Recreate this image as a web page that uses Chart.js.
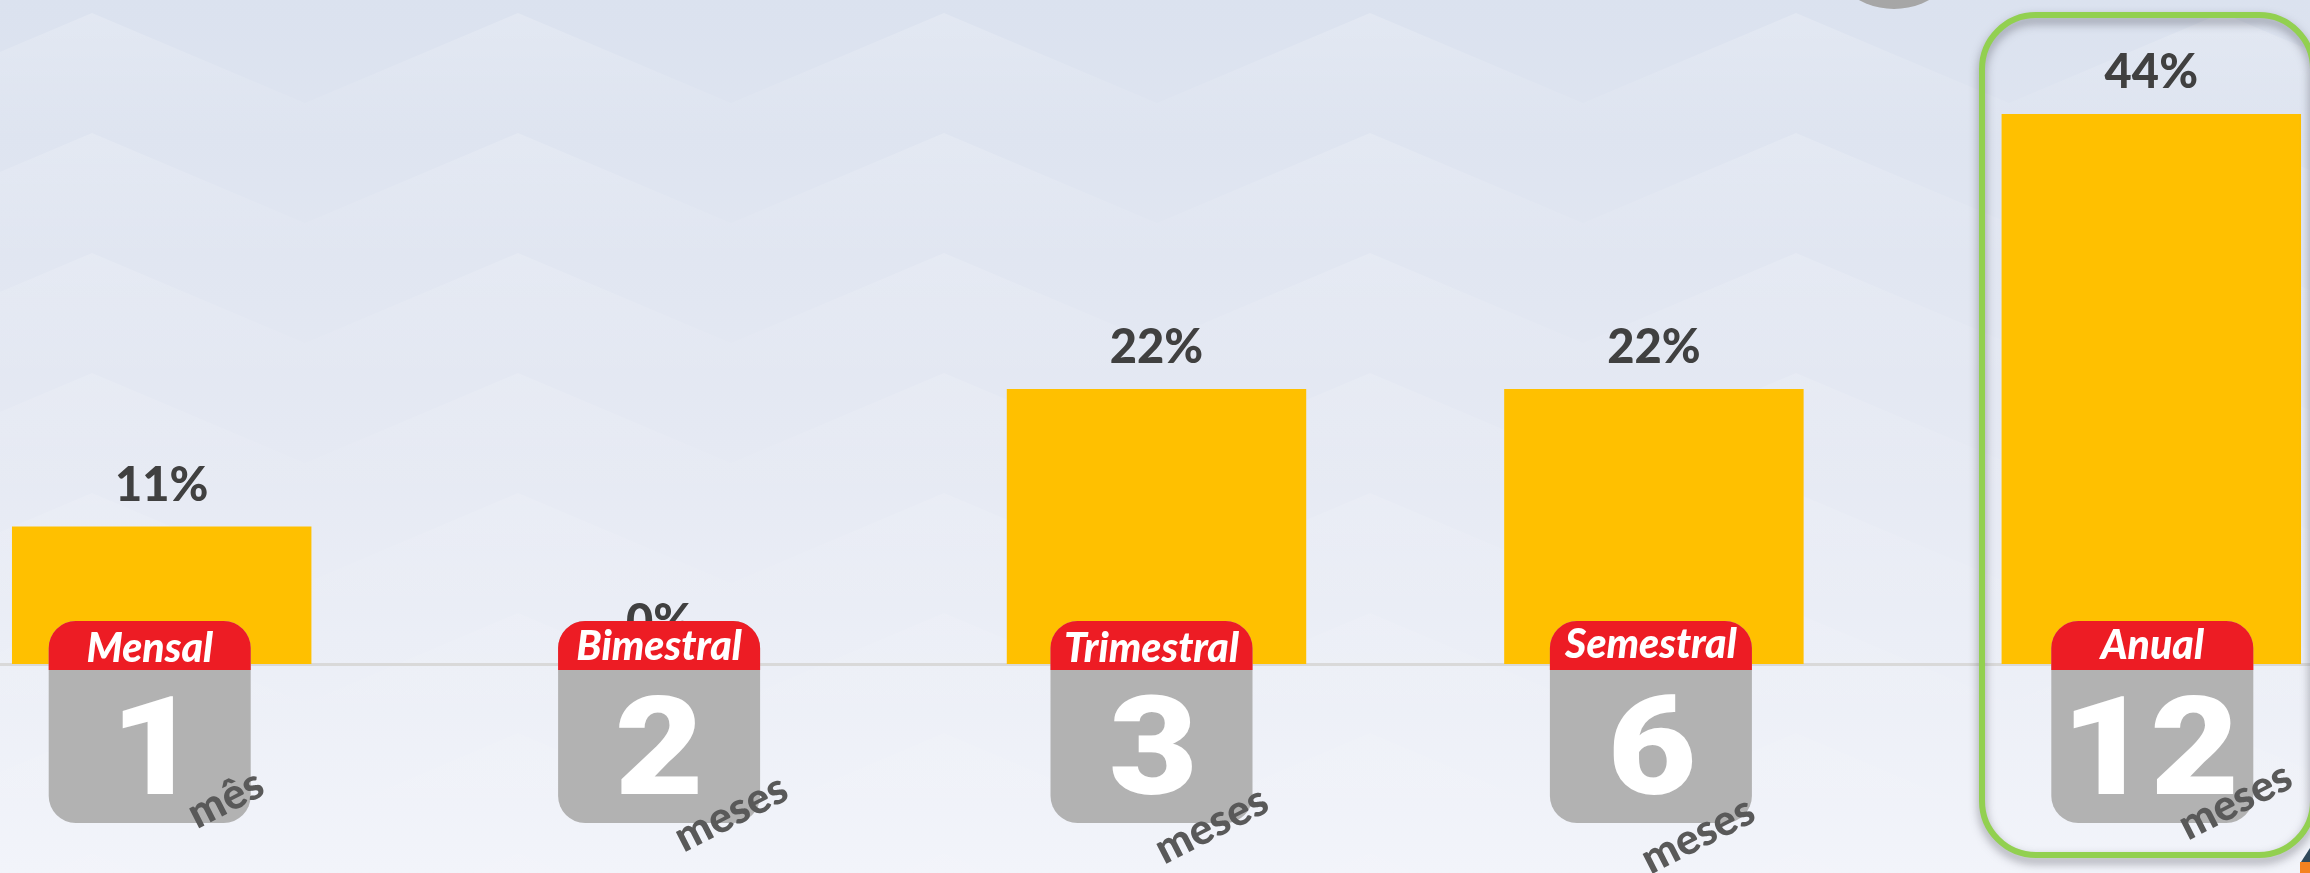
<!DOCTYPE html>
<html>
<head>
<meta charset="utf-8">
<title>Periodicidade</title>
<script src="https://cdn.jsdelivr.net/npm/chart.js@4"></script>
<style>
  html, body { margin: 0; width: 2310px; height: 873px; overflow: hidden; background: #e8ecf5; }
  /* plot runs wider than the window, first and last category are cut by the page */
  #chart { position: absolute; left: -87px; top: 0; }
</style>
</head>
<body>
<canvas id="chart" width="2487" height="873"></canvas>
<script>
// data
var categories = ["Mensal", "Bimestral", "Trimestral", "Semestral", "Anual"];
var percents = [11, 0, 22, 22, 44];
var months = ["1", "2", "3", "6", "12"];
var monthWords = ["mês", "meses", "meses", "meses", "meses"];

// layout of the little calendars, relative to the bar centre
var calendarShift = [-12, 0, -5, -3, 1];
var nameBaseline = [662, 660, 662, 658, 659];
var digitShift = [5, 0, 2, 1, -2];
var wordShift = [[64, 135], [72, 149], [55, 161], [44, 171], [84, 137]];
var pageLeft = 87;

function roundedTop(ctx, x, y, w, h, r, rb) {
  ctx.beginPath();
  ctx.roundRect(x, y, w, h, [r, r, rb, rb]);
}

var backdrop = {
  id: "backdrop",
  beforeDraw: function (chart) {
    var ctx = chart.ctx;
    ctx.save();
    ctx.translate(pageLeft, 0);
    var g = ctx.createLinearGradient(0, 0, 0, 873);
    g.addColorStop(0, "#dbe2ef");
    g.addColorStop(0.5, "#e5e9f3");
    g.addColorStop(1, "#f2f4fa");
    ctx.fillStyle = g;
    ctx.fillRect(0, 0, 2310, 873);
    // zigzag bands, they get fainter towards the bottom
    for (var row = 0; row < 8; row++) {
      var top = 13 + row * 120;
      ctx.beginPath();
      ctx.moveTo(-121, top + 90);
      for (var k = 0; k < 7; k++) {
        ctx.lineTo(-121 + k * 426 + 213, top);
        ctx.lineTo(-121 + (k + 1) * 426, top + 90);
      }
      ctx.lineTo(2500, top + 130);
      ctx.lineTo(-121, top + 130);
      ctx.closePath();
      var b = ctx.createLinearGradient(0, top, 0, top + 130);
      b.addColorStop(0, "rgba(255,255,255," + (0.2 - row * 0.022) + ")");
      b.addColorStop(1, "rgba(255,255,255,0)");
      ctx.fillStyle = b;
      ctx.fill();
    }
    ctx.restore();
  }
};

var overlay = {
  id: "overlay",
  afterDatasetsDraw: function (chart) {
    var ctx = chart.ctx;
    var x = chart.scales.x;
    var bars = chart.getDatasetMeta(0).data;

    // value labels
    ctx.save();
    ctx.font = "900 47px Lato";
    ctx.fillStyle = "#404040";
    ctx.textAlign = "center";
    ctx.textBaseline = "alphabetic";
    bars.forEach(function (bar, i) {
      ctx.fillText(percents[i] + "%", bar.x, bar.y - 26);
    });
    ctx.restore();

    // calendars sit on top of the bars
    categories.forEach(function (name, i) {
      var cx = x.getPixelForValue(i) + calendarShift[i];
      var left = cx - 101;
      ctx.save();
      ctx.fillStyle = "#b2b2b2";
      roundedTop(ctx, left, 621, 202, 202, 27, 27);
      ctx.fill();
      ctx.fillStyle = "#ed1c24";
      roundedTop(ctx, left, 621, 202, 49, 27, 0);
      ctx.fill();

      ctx.fillStyle = "#ffffff";
      ctx.textAlign = "center";
      ctx.font = "italic 900 41px Lato";
      ctx.fillText(name, cx, nameBaseline[i]);

      ctx.save();
      ctx.translate(cx + digitShift[i], 794);
      ctx.scale(1.12, 1);
      ctx.font = "900 137px Roboto";
      ctx.fillText(months[i], 0, 0);
      ctx.restore();

      ctx.translate(x.getPixelForValue(i) + wordShift[i][0], 664 + wordShift[i][1]);
      ctx.rotate(-27 * Math.PI / 180);
      ctx.fillStyle = "#595959";
      ctx.font = "900 43px Lato";
      ctx.textBaseline = "middle";
      ctx.fillText(monthWords[i], 0, 0);
      ctx.restore();
    });

    // highlight around the last column, circle and logo bits at the edges
    ctx.save();
    ctx.translate(pageLeft, 0);
    ctx.save();
    ctx.shadowColor = "rgba(60,60,70,0.5)";
    ctx.shadowBlur = 10;
    ctx.shadowOffsetY = 5;
    ctx.strokeStyle = "#92d050";
    ctx.lineWidth = 6;
    ctx.beginPath();
    ctx.roundRect(1982, 15, 331, 840, 54);
    ctx.stroke();
    ctx.restore();

    ctx.fillStyle = "#a6a6a6";
    ctx.beginPath();
    ctx.arc(1894, -64, 73, 0, Math.PI * 2);
    ctx.fill();

    ctx.fillStyle = "#31495c";
    ctx.beginPath();
    ctx.moveTo(2310, 848);
    ctx.lineTo(2310, 862);
    ctx.lineTo(2301, 862);
    ctx.closePath();
    ctx.fill();
    ctx.fillStyle = "#f58220";
    ctx.fillRect(2300, 862, 10, 11);
    ctx.restore();
  }
};

new Chart("chart", {
  type: "bar",
  data: {
    labels: categories,
    datasets: [{
      data: percents,
      backgroundColor: "#ffc000",
      categoryPercentage: 1,
      barPercentage: 0.602
    }]
  },
  options: {
    responsive: false,
    animation: false,
    layout: { padding: { top: 39, bottom: 201 } },
    plugins: { legend: { display: false }, title: { display: false }, tooltip: { enabled: false } },
    scales: {
      x: {
        grid: { display: false },
        ticks: { display: false },
        border: { color: "#d9d9d9", width: 3 }
      },
      y: { display: false, min: 0, max: 50 }
    }
  },
  plugins: [backdrop, overlay]
});
</script>
</body>
</html>
